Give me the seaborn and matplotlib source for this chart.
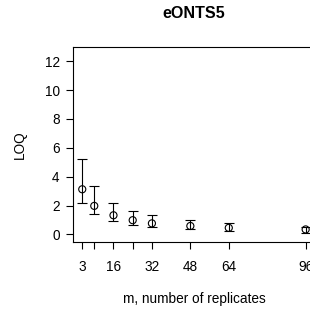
import matplotlib
matplotlib.use("Agg")
import matplotlib.pyplot as plt
import seaborn as sns
import numpy as np
import pandas as pd

m_values = [3, 8, 16, 24, 32, 48, 64, 96]
loq_mean = [3.13, 1.98, 1.33, 0.99, 0.77, 0.59, 0.46, 0.35]
loq_lower = [2.21, 1.40, 0.92, 0.69, 0.55, 0.37, 0.23, 0.11]
loq_upper = [5.25, 3.34, 2.18, 1.63, 1.33, 0.97, 0.78, 0.50]
x_tick_labels = ["3", "", "16", "", "32", "48", "64", "96"]
y_ticks = [0, 2, 4, 6, 8, 10, 12]

df = pd.DataFrame({"m": m_values, "loq": loq_mean,
                   "lo": loq_lower, "hi": loq_upper})

sns.set_style("ticks")
plt.rcParams["font.family"] = ["Liberation Sans", "DejaVu Sans"]
plt.rcParams["text.color"] = "black"
plt.rcParams["axes.labelcolor"] = "black"

fig = plt.figure(figsize=(3.10, 3.11), dpi=100)
ax = fig.add_axes([0.2365, 0.2228, 1.0148 - 0.2365, 0.8498 - 0.2228])

yerr = np.vstack([df["loq"] - df["lo"], df["hi"] - df["loq"]])
ax.errorbar(df["m"], df["loq"], yerr=yerr, fmt="none", ecolor="black",
            elinewidth=0.8, capsize=3.8, capthick=0.8, zorder=2)
sns.scatterplot(data=df, x="m", y="loq", ax=ax, marker="o", s=26,
                facecolor="none", edgecolor="black", linewidth=0.8, zorder=3)

ax.set_xlim(-0.72, 99.72)
ax.set_ylim(-0.5, 13.0)
ax.set_xticks(m_values)
ax.set_xticklabels(x_tick_labels)
ax.set_yticks(y_ticks)

for s in ax.spines.values():
    s.set_color("black")
    s.set_linewidth(0.8)

ax.tick_params(axis="both", direction="out", length=4.8, width=0.8,
               colors="black", labelcolor="black", labelsize=9.8)
ax.tick_params(axis="x", pad=8.5)
ax.tick_params(axis="y", pad=5.0)

ax.set_xlabel("m, number of replicates", fontsize=9.8, labelpad=13)
ax.set_ylabel("LOQ", fontsize=9.8, labelpad=13)
ax.set_title("eONTS5", fontsize=11.6, fontweight="bold", pad=21, color="black")

fig.savefig("out.png", dpi=100)
